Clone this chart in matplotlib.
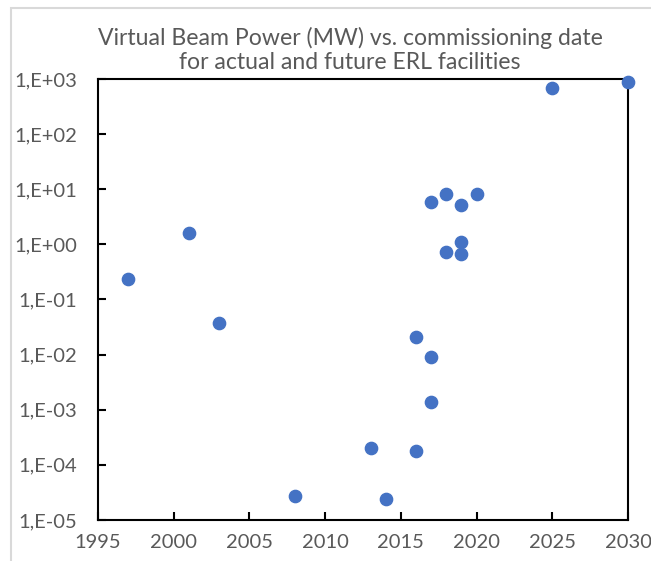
import numpy as np
import matplotlib.pyplot as plt
from matplotlib.ticker import FixedLocator, FuncFormatter
from matplotlib.patches import Rectangle

# commissioning year and virtual beam power (MW)
years = [1997, 2001, 2003, 2008, 2013, 2014, 2016, 2016, 2017, 2017, 2017,
         2018, 2018, 2019, 2019, 2019, 2020, 2025, 2030]
power = [0.24, 1.58, 0.037, 2.7e-5, 2.0e-4, 2.4e-5, 0.0205, 1.78e-4, 0.0089, 0.00136, 5.9,
         8.1, 0.72, 5.1, 1.11, 0.66, 8.1, 680, 890]

title = 'Virtual Beam Power (MW) vs. commissioning date\nfor actual and future ERL facilities'
xticks = [1995, 2000, 2005, 2010, 2015, 2020, 2025, 2030]
yticks = [1e-5, 1e-4, 1e-3, 1e-2, 1e-1, 1e0, 1e1, 1e2, 1e3]

plt.rcParams['font.family'] = ['Lato', 'DejaVu Sans']
gray = '#595959'

fig = plt.figure(figsize=(6.51, 5.61), dpi=100)
ax = fig.add_axes([98/651, 41/561, 530/651, 441/561])

ax.scatter(years, power, s=78, color='#4472C4', zorder=3, clip_on=False)

ax.set_yscale('log')
ax.set_xlim(1995, 2030)
ax.set_ylim(1e-5, 1e3)
ax.xaxis.set_major_locator(FixedLocator(xticks))
ax.yaxis.set_major_locator(FixedLocator(yticks))
ax.yaxis.set_minor_locator(FixedLocator([]))
ax.yaxis.set_major_formatter(FuncFormatter(lambda v, p: '1,E%+03d' % round(np.log10(v))))

ax.tick_params(axis='both', direction='in', length=6, width=1.5, color='black',
               labelsize=14.5, labelcolor=gray)
ax.tick_params(axis='x', pad=10)
ax.tick_params(axis='y', pad=15)
ax.tick_params(axis='y', which='minor', length=0)
for s in ax.spines.values():
    s.set_linewidth(1.5)
    s.set_color('black')

fig.text(350/651, 1 - 50/561, title, ha='center', va='center', fontsize=16.6,
         color=gray, linespacing=1.2)

# light chart border
fig.add_artist(Rectangle((11/651, -0.1), 1.1, 1 - 8/561 + 0.1, transform=fig.transFigure,
                         fill=False, edgecolor='#d9d9d9', linewidth=1.5))

fig.savefig('out.png', dpi=100)
